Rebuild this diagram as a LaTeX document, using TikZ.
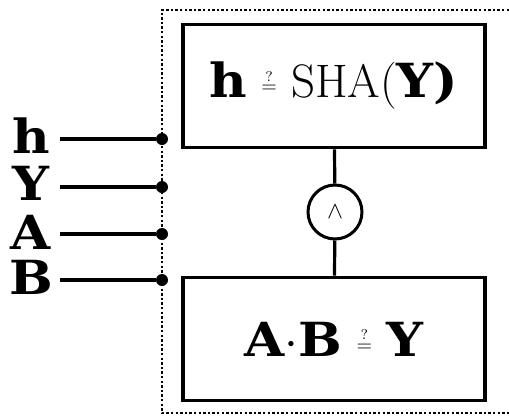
\documentclass[tikz,border=0pt]{standalone}
\usepackage{amsmath,amssymb}
\usepackage{fontspec}
\usepackage{tikz}
\usetikzlibrary{positioning}
\newfontfamily\varfont[FakeStretch=1.1]{DejaVu Serif Bold}
\newcommand{\bv}[1]{{\varfont #1}}
\newcommand{\qeq}{\raisebox{2.5pt}{\fontsize{10}{11}\selectfont$\stackrel{?}{=}$}}

\begin{document}
\begin{tikzpicture}[
  x=0.5pt, y=-0.5pt,
  font=\fontsize{23.5}{27}\selectfont,
  check/.style ={draw, line width=1.8pt, minimum width=151pt, minimum height=61.5pt, inner sep=0pt},
  gate/.style  ={draw, circle, line width=1.5pt, minimum size=27pt, inner sep=0pt, font=\fontsize{13}{15}\selectfont},
  port/.style  ={circle, fill, inner sep=0pt, minimum size=6pt},
  lbl/.style   ={inner sep=0pt, minimum width=29pt, align=center},
  wire/.style  ={line width=1.6pt},
  frame/.style ={line width=1.3pt, dash pattern=on 1.2pt off 1.1pt}
]
\useasboundingbox (0,0) rectangle (509,418);

% ---- verifier boundary (runs off the right edge) ----
\coordinate (ftr) at (509,10);
\coordinate (ftl) at (162,10);
\coordinate (fbl) at (162,413);
\coordinate (fbr) at (509,413);
\draw[frame] (ftr) -- (ftl) -- (fbl) -- (fbr);

% ---- the two checks, joined by AND ----
\node[check] (hash) at (334,86)  {\bv{h} \qeq{} SHA(\bv{Y)}};
\node[gate]  (and)  at (335,212) {$\wedge$};
\node[check] (prod) at (334,339) {\bv{A}$\cdot$\bv{B} \qeq{} \bv{Y}};
\draw[wire] (hash) -- (and) -- (prod);

% ---- inputs ----
\node[port] (ph) at (162,139) {};
\node[port] (pY) at (162,187) {};
\node[port] (pA) at (162,234) {};
\node[port] (pB) at (162,280) {};
\node[lbl] (lh) at (31,136) {\bv{h}};
\node[lbl] (lY) at (31,183) {\bv{Y}};
\node[lbl] (lA) at (31,232) {\bv{A}};
\node[lbl] (lB) at (31,277) {\bv{B}};
\draw[wire] (ph) -- (ph -| lh.east);
\draw[wire] (pY) -- (pY -| lY.east);
\draw[wire] (pA) -- (pA -| lA.east);
\draw[wire] (pB) -- (pB -| lB.east);

\end{tikzpicture}
\end{document}
